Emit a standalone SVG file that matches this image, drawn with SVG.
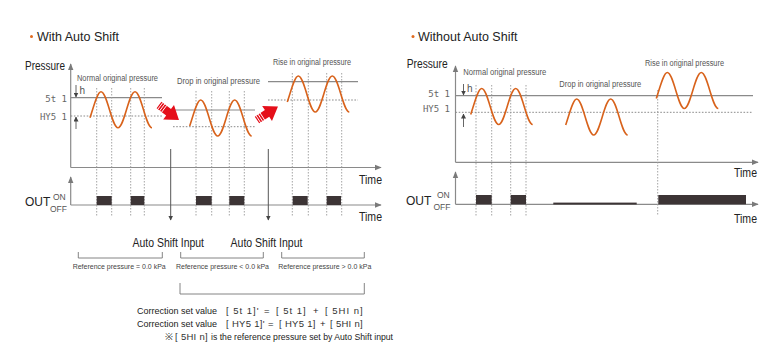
<svg xmlns="http://www.w3.org/2000/svg" width="780" height="360" viewBox="0 0 780 360">
<style>
text{font-family:"Liberation Sans","Noto Sans",sans-serif;fill:#222}
.title{font-size:12.5px}
.ax{font-size:12px}
.sm{font-size:8.5px;fill:#555}
.ref{font-size:8px;fill:#444}
.seg{font-family:"DejaVu Sans Mono","Liberation Mono",monospace;font-size:9px;fill:#666}
.fx{font-size:9.5px;fill:#222}
.fseg{font-family:"Liberation Sans",sans-serif;font-size:9.5px;letter-spacing:0.3px;fill:#333}
.wide{letter-spacing:1px}
.axis{stroke:#8a8a8a;stroke-width:1.2;fill:none}
.st{stroke:#8a8a8a;stroke-width:1.2;fill:none}
.hys{stroke:#8a8a8a;stroke-width:1;stroke-dasharray:1.6 1.6;fill:none}
.dv{stroke:#9a9a9a;stroke-width:0.9;stroke-dasharray:1.5 1.5;fill:none}
.wave{stroke:#d8621b;stroke-width:1.6;fill:none}
.bar{fill:#3c3435}
.brk{stroke:#777;stroke-width:0.9;fill:none}
.harr{stroke:#555;stroke-width:0.9;fill:none}
.sh{stroke:#555;stroke-width:1;fill:none}
</style>
<defs>
<marker id="ah" viewBox="0 0 10 10" refX="9" refY="5" markerWidth="7" markerHeight="7" orient="auto" markerUnits="userSpaceOnUse"><path d="M0,1 L10,5 L0,9 Z" fill="#7a7a7a"/></marker>
<marker id="hs" viewBox="0 0 10 10" refX="9" refY="5" markerWidth="5" markerHeight="5" orient="auto" markerUnits="userSpaceOnUse"><path d="M0,0 L10,5 L0,10 Z" fill="#444"/></marker>
<path id="wv" d="M-11,26 C-7.33,15.08 -3.67,0 0,0 C6.18,0 10.82,36 17,36 S27.82,0 34,0 S44.82,36 51,36"/>
<g id="redarrow">
<polygon points="0,-4 12,-4 12,-9 25,0 12,9 12,4 0,4" fill="#e50f1a"/>
<path d="M1.6,-4.5 V4.5 M4,-4.5 V4.5 M6.4,-4.5 V4.5" stroke="#fff" stroke-width="0.9"/>
</g>
</defs>

<!-- Titles -->
<g id="title-left">
<circle cx="31.5" cy="36.5" r="1.5" fill="#e06a1e"/>
<text class="title" x="37" y="41">With Auto Shift</text>
</g>
<g id="title-right">
<circle cx="413" cy="36.5" r="1.5" fill="#e06a1e"/>
<text class="title" x="418" y="41">Without Auto Shift</text>
</g>

<!-- LEFT CHART -->
<g id="left-axes">
<text class="ax" x="25" y="70" textLength="40" lengthAdjust="spacingAndGlyphs">Pressure</text>
<path class="axis" d="M70.7,167.5 V64" marker-end="url(#ah)"/>
<path class="axis" d="M70.7,167.5 H381" marker-end="url(#ah)"/>
<text class="ax" x="359" y="184" textLength="23" lengthAdjust="spacingAndGlyphs">Time</text>
<path class="axis" d="M70.7,205 V177" marker-end="url(#ah)"/>
<path class="axis" d="M70.7,205 H381" marker-end="url(#ah)"/>
<text class="ax" x="359" y="221" textLength="23" lengthAdjust="spacingAndGlyphs">Time</text>
<text class="ax" x="25" y="206">OUT</text>
<text class="sm" x="53" y="200">ON</text>
<text class="sm" x="50" y="212">OFF</text>
<text class="seg" x="67" y="102" text-anchor="end">5t 1</text>
<text class="seg" x="67" y="120" text-anchor="end">HY5 1</text>
</g>

<g id="left-normal">
<text class="sm" x="77" y="81" textLength="81" lengthAdjust="spacingAndGlyphs">Normal original pressure</text>
<path class="st" d="M70.7,97.7 H162"/>
<path class="hys" d="M70.7,116 H162"/>
<path class="harr" d="M76,85 V97" marker-end="url(#hs)"/>
<text class="sm" x="79.5" y="94" style="font-size:10px">h</text>
<path class="harr" d="M76,129 V117" marker-end="url(#hs)"/>
<path class="dv" d="M96.7,88 V217 M111.7,88 V217 M130.7,88 V217 M144.3,88 V217"/>
<use href="#wv" class="wave" transform="translate(101,91.7)"/>
<rect class="bar" x="96.7" y="196" width="15" height="9"/>
<rect class="bar" x="130.7" y="196" width="13.6" height="9"/>
</g>

<g id="left-drop">
<text class="sm" x="177" y="84" textLength="83" lengthAdjust="spacingAndGlyphs">Drop in original pressure</text>
<path class="st" d="M175,110 H255"/>
<path class="hys" d="M173,126.7 H255"/>
<path class="dv" d="M196,91 V217 M211.7,91 V217 M229.3,91 V217 M244.3,91 V217"/>
<use href="#wv" class="wave" transform="translate(200.7,100)"/>
<rect class="bar" x="196" y="196" width="15.7" height="9"/>
<rect class="bar" x="229.3" y="196" width="15" height="9"/>
</g>

<g id="left-rise">
<text class="sm" x="273" y="65" textLength="78" lengthAdjust="spacingAndGlyphs">Rise in original pressure</text>
<path class="st" d="M268,81.7 H358"/>
<path class="hys" d="M268,100 H358"/>
<path class="dv" d="M292.3,73 V217 M308.3,73 V217 M326.7,73 V217 M341.7,73 V217"/>
<use href="#wv" class="wave" transform="translate(298.3,76)"/>
<rect class="bar" x="292.7" y="196" width="15" height="9"/>
<rect class="bar" x="326.7" y="196" width="14.3" height="9"/>
</g>

<g id="red-arrows">
<use href="#redarrow" transform="translate(159,105) rotate(37)"/>
<use href="#redarrow" transform="translate(257,120) rotate(-33)"/>
</g>

<g id="connectors">
<path class="sh" d="M170.7,149 V220" marker-end="url(#hs)"/>
<path class="sh" d="M268.3,149 V220" marker-end="url(#hs)"/>
</g>

<g id="auto-shift-labels">
<text class="ax" x="132.5" y="247" textLength="71.5" lengthAdjust="spacingAndGlyphs">Auto Shift Input</text>
<text class="ax" x="230.5" y="247" textLength="72" lengthAdjust="spacingAndGlyphs">Auto Shift Input</text>
</g>

<g id="brackets">
<path class="brk" d="M78.3,252 V258 H162.3 V252"/>
<path class="brk" d="M180.7,252 V258 H263.3 V252"/>
<path class="brk" d="M281.7,252 V258 H364.3 V252"/>
<text class="ref" x="72.7" y="269" textLength="93" lengthAdjust="spacingAndGlyphs">Reference pressure = 0.0 kPa</text>
<text class="ref" x="176" y="269" textLength="93" lengthAdjust="spacingAndGlyphs">Reference pressure &lt; 0.0 kPa</text>
<text class="ref" x="278.3" y="269" textLength="93" lengthAdjust="spacingAndGlyphs">Reference pressure &gt; 0.0 kPa</text>
<path class="brk" d="M180,283 V294 H364.3 V283"/>
</g>

<g id="formula">
<text class="fx" y="314"><tspan x="137" style="font-size:9px">Correction set value</tspan><tspan class="fseg wide" x="226">[ 5t 1]'</tspan><tspan x="264">=</tspan><tspan class="fseg wide" x="276">[ 5t 1]</tspan><tspan x="313">+</tspan><tspan class="fseg wide" x="325">[ 5HI n]</tspan></text>
<text class="fx" y="327"><tspan x="137" style="font-size:9px">Correction set value</tspan><tspan class="fseg" x="226">[ HY5 1]'</tspan><tspan x="268">=</tspan><tspan class="fseg" x="279">[ HY5 1]</tspan><tspan x="320">+</tspan><tspan class="fseg" x="330">[ 5HI n]</tspan></text>
<text class="fx" y="340"><tspan x="165">※</tspan><tspan class="fseg" x="175">[ 5HI n]</tspan><tspan x="211" textLength="182" lengthAdjust="spacingAndGlyphs">is the reference pressure set by Auto Shift input</tspan></text>
</g>

<!-- RIGHT CHART -->
<g id="right-axes">
<text class="ax" x="406.7" y="68" textLength="41" lengthAdjust="spacingAndGlyphs">Pressure</text>
<path class="axis" d="M455.5,162.3 V66" marker-end="url(#ah)"/>
<path class="axis" d="M455.5,162.3 H758" marker-end="url(#ah)"/>
<text class="ax" x="734" y="177" textLength="23" lengthAdjust="spacingAndGlyphs">Time</text>
<path class="axis" d="M455.5,204.3 V172" marker-end="url(#ah)"/>
<path class="axis" d="M455.5,204.3 H758" marker-end="url(#ah)"/>
<text class="ax" x="734" y="223" textLength="23" lengthAdjust="spacingAndGlyphs">Time</text>
<text class="ax" x="406" y="205">OUT</text>
<text class="sm" x="437" y="198">ON</text>
<text class="sm" x="433.5" y="210">OFF</text>
<text class="seg" x="450" y="97" text-anchor="end">5t 1</text>
<text class="seg" x="450" y="112" text-anchor="end">HY5 1</text>
<path class="st" d="M455.5,95.7 H753"/>
<path class="hys" d="M455.5,112.3 H753"/>
<path class="harr" d="M463.5,84 V95" marker-end="url(#hs)"/>
<text class="sm" x="467" y="92" style="font-size:10px">h</text>
<path class="harr" d="M463.5,127 V114" marker-end="url(#hs)"/>
</g>

<g id="right-normal">
<text class="sm" x="463.3" y="75" textLength="83" lengthAdjust="spacingAndGlyphs">Normal original pressure</text>
<path class="dv" d="M476,85 V216 M491.7,85 V216 M510.7,85 V216 M526,85 V216"/>
<use href="#wv" class="wave" transform="translate(481.7,88.5)"/>
<rect class="bar" x="476" y="195" width="15.7" height="9.3"/>
<rect class="bar" x="510.7" y="195" width="15.3" height="9.3"/>
</g>

<g id="right-drop">
<text class="sm" x="559.3" y="87" textLength="82" lengthAdjust="spacingAndGlyphs">Drop in original pressure</text>
<use href="#wv" class="wave" transform="translate(576.7,99)"/>
<rect class="bar" x="553.3" y="202.6" width="83.4" height="1.9"/>
</g>

<g id="right-rise">
<text class="sm" x="645" y="66" textLength="79" lengthAdjust="spacingAndGlyphs">Rise in original pressure</text>
<path class="dv" d="M657.7,90 V216"/>
<use href="#wv" class="wave" transform="translate(667.3,72.5)"/>
<rect class="bar" x="658.3" y="195" width="87.7" height="9.3"/>
</g>
</svg>
